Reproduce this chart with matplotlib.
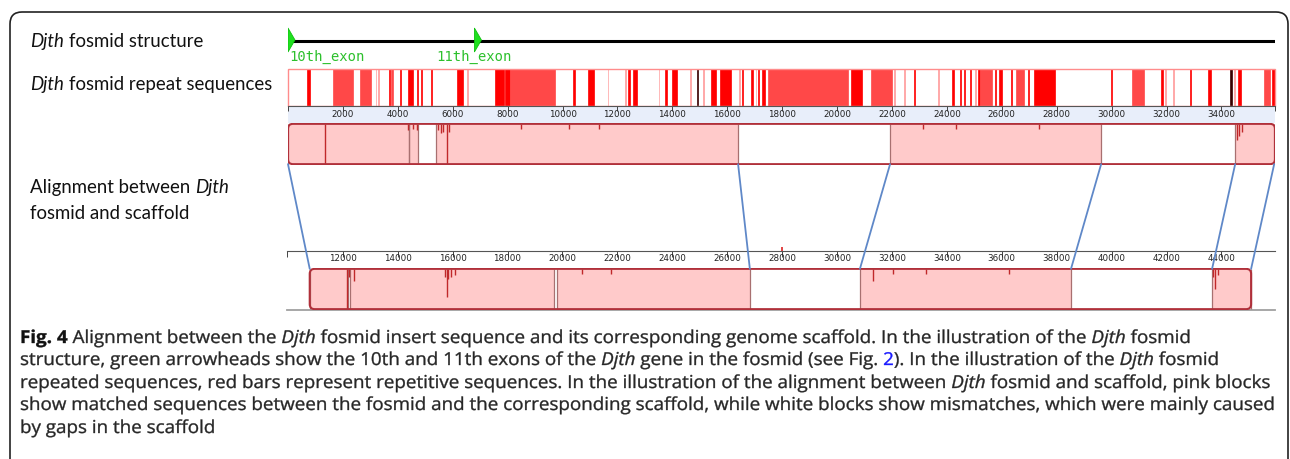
import matplotlib
matplotlib.use('Agg')
import matplotlib.pyplot as plt
from matplotlib import font_manager
from matplotlib.font_manager import FontProperties
from matplotlib.patches import FancyBboxPatch, Polygon, Rectangle, ConnectionPatch, PathPatch
from matplotlib.textpath import TextPath, text_to_path
from matplotlib.transforms import Affine2D

# fosmid / scaffold coordinates (bp)
FOSMID_LEN = 35950
SCAFFOLD_VIEW = (9970, 45950)

EXON_POS = [0, 6790]
EXON_NAMES = ['10th_exon', '11th_exon']

# repeat intervals: start, end, kind (r = repeat, m = low-complexity, l = short, k = other)
REPEAT_START = [700, 1640, 2640, 3190, 3285, 3680, 3760, 4090, 4380, 4700, 4840, 5220,
                6150, 6530, 7530, 7900, 8070, 10390, 10930, 11640, 12270, 12400, 12560,
                13500, 13730, 14000, 14640, 14900, 15120, 15420, 15720, 16420, 16550,
                16880, 17030, 17130, 17260, 17500, 20510, 21230, 22080, 22440, 22800,
                23670, 24170, 24490, 24620, 24830, 25040, 25140, 25220, 25740, 25900,
                26320, 26520, 26960, 27160, 29960, 30730, 31810, 31940, 32230, 32850,
                33500, 34310, 34450, 34590, 35560, 35830]
REPEAT_END = [800, 2370, 3040, 3215, 3310, 3720, 3830, 4130, 4560, 4740, 4880, 5260,
              6380, 6560, 7880, 8070, 9720, 10470, 11130, 11670, 12300, 12450, 12700,
              13530, 13820, 14170, 14670, 14950, 15150, 15580, 16150, 16450, 16590,
              16920, 17060, 17170, 17380, 20410, 20920, 21990, 22110, 22470, 22840,
              23700, 24260, 24530, 24660, 24870, 25070, 25220, 25630, 25800, 26000,
              26360, 26790, 27000, 27950, 30000, 31180, 31860, 31970, 32260, 32890,
              33610, 34390, 34490, 34720, 35770, 35950]
REPEAT_KIND = ['r', 'm', 'm', 'l', 'l', 'r', 'm', 'r', 'r', 'r', 'r', 'r',
               'r', 'l', 'r', 'r', 'm', 'r', 'r', 'l', 'l', 'r', 'r',
               'l', 'r', 'r', 'l', 'k', 'l', 'r', 'r', 'l', 'r',
               'r', 'l', 'r', 'r', 'm', 'r', 'm', 'l', 'l', 'r',
               'l', 'r', 'r', 'r', 'r', 'l', 'r', 'm', 'r', 'r',
               'r', 'm', 'r', 'r', 'r', 'm', 'r', 'l', 'l', 'r',
               'r', 'k', 'l', 'r', 'm', 'r']
REPEAT_COLORS = {'r': '#ff0000', 'm': '#ff4848', 'l': '#ff9c9c', 'k': '#3a0000'}

# matched (pink) blocks on each sequence
FOSMID_BLOCK_START = [0, 4420, 5400, 21930, 34499]
FOSMID_BLOCK_END = [4400, 4720, 16394, 29617, 35920]
SCAFFOLD_BLOCK_START = [10798, 12280, 19800, 30834, 43659]
SCAFFOLD_BLOCK_END = [12180, 19700, 26826, 38521, 45080]

# similarity dips inside blocks: position, depth (fraction of track height)
FOSMID_DIP_POS = [1350, 4370, 4560, 4690, 5470, 5560, 5650, 5780, 5860, 8480, 10240,
                  11330, 23130, 24340, 27350, 34560, 34650, 34740]
FOSMID_DIP_DEPTH = [1.0, 0.15, 0.12, 0.15, 0.15, 0.22, 0.2, 1.0, 0.2, 0.12, 0.12,
                    0.12, 0.12, 0.12, 0.12, 0.4, 0.3, 0.2]
SCAFFOLD_DIP_POS = [12150, 12230, 12400, 15720, 15780, 15850, 15950, 16100, 20700,
                    21760, 31320, 32050, 33240, 36250, 43700, 43780, 43890]
SCAFFOLD_DIP_DEPTH = [1.0, 0.2, 0.3, 0.2, 0.7, 0.25, 0.2, 0.15, 0.12,
                      0.12, 0.3, 0.12, 0.12, 0.12, 0.2, 0.5, 0.15]

# collinear block ends linked between the two sequences
LINK_FOSMID = [0, 16394, 21930, 29617, 34499, 35920]
LINK_SCAFFOLD = [10798, 26826, 30834, 38521, 43659, 45080]

FOSMID_TICKS = list(range(2000, 36000, 2000))
SCAFFOLD_TICKS = list(range(12000, 46000, 2000))
CURSOR_POS = 27980

LABELS = [
    [('Djth', 'i'), (' fosmid structure', 'n')],
    [('Djth', 'i'), (' fosmid repeat sequences', 'n')],
    [('Alignment between ', 'n'), ('Djth', 'i')],
    [('fosmid and scaffold', 'n')],
]
CAPTION = [
    [('Fig. 4', 'b'), (' Alignment between the ', 'n'), ('Djth', 'i'),
     (' fosmid insert sequence and its corresponding genome scaffold. In the illustration of the ', 'n'),
     ('Djth', 'i'), (' fosmid', 'n')],
    [('structure, green arrowheads show the 10th and 11th exons of the ', 'n'), ('Djth', 'i'),
     (' gene in the fosmid (see Fig. ', 'n'), ('2', 'link'), ('). In the illustration of the ', 'n'),
     ('Djth', 'i'), (' fosmid', 'n')],
    [('repeated sequences, red bars represent repetitive sequences. In the illustration of the alignment between ', 'n'),
     ('Djth', 'i'), (' fosmid and scaffold, pink blocks', 'n')],
    [('show matched sequences between the fosmid and the corresponding scaffold, while white blocks show mismatches, which were mainly caused', 'n')],
    [('by gaps in the scaffold', 'n')],
]

W, H = 1290, 459
DPI = 100
fig = plt.figure(figsize=(W / DPI, H / DPI), dpi=DPI)
fig.patch.set_facecolor('white')
renderer = fig.canvas.get_renderer()

available = {f.name for f in font_manager.fontManager.ttflist}
caption_font = 'Open Sans' if 'Open Sans' in available else 'DejaVu Sans'
label_font = 'Lato' if 'Lato' in available else 'DejaVu Sans'


def px_axes(x0, y0, x1, y1):
    ax = fig.add_axes([x0 / W, 1 - y1 / H, (x1 - x0) / W, (y1 - y0) / H])
    for s in ax.spines.values():
        s.set_visible(False)
    ax.set_xticks([])
    ax.set_yticks([])
    ax.patch.set_alpha(0)
    return ax


def style_kw(style):
    kw = {}
    if style == 'i':
        kw['style'] = 'italic'
    if style == 'b':
        kw['weight'] = 'bold'
        kw['color'] = '#111111'
    if style == 'link':
        kw['color'] = '#1a1aff'
    return kw


def text_width(s, size, family, style):
    t = fig.text(0, 0, s, fontsize=size, family=family, **style_kw(style))
    w = t.get_window_extent(renderer).width
    t.remove()
    return w


def rich_line(x, y, parts, size, family, color):
    sp = text_width('x x', size, family, 'n') - text_width('xx', size, family, 'n')
    for s, st in parts:
        x += sp * (len(s) - len(s.lstrip(' ')))
        kw = {'color': color}
        kw.update(style_kw(st))
        t = fig.text(x / W, 1 - y / H, s.strip(' '), fontsize=size, family=family,
                     ha='left', va='baseline', **kw)
        x += t.get_window_extent(renderer).width
        x += sp * (len(s) - len(s.rstrip(' ')))


def rich_label_width(parts, size, family):
    sp = text_width('x x', size, family, 'n') - text_width('xx', size, family, 'n')
    total = 0
    for s, st in parts:
        total += sp * (len(s) - len(s.strip(' ')))
        total += text_width(s.strip(' '), size, family, st)
    return total


# caption: glyph outlines, measured unhinted, squeezed horizontally by sx
def cap_prop(style, family, size):
    kw = style_kw(style)
    return FontProperties(family=family, style=kw.get('style', 'normal'),
                          weight=kw.get('weight', 'normal'), size=size)


def path_width(s, style, family, size):
    w, _, _ = text_to_path.get_text_width_height_descent(s, cap_prop(style, family, size), False)
    return w


def caption_width(parts, size, family):
    sp = path_width('x x', 'n', family, size) - path_width('xx', 'n', family, size)
    total = 0
    for s, st in parts:
        total += sp * (len(s) - len(s.strip(' ')))
        total += path_width(s.strip(' '), st, family, size)
    return total * DPI / 72


def narrow_line(x, y, parts, size, family, color, sx):
    k = DPI / 72
    sp = path_width('x x', 'n', family, size) - path_width('xx', 'n', family, size)
    for s, st in parts:
        x += sx * k * sp * (len(s) - len(s.lstrip(' ')))
        core = s.strip(' ')
        kw = {'color': color}
        kw.update(style_kw(st))
        path = TextPath((0, 0), core, size=size, prop=cap_prop(st, family, size))
        tr = Affine2D().scale(sx * k, k).translate(x, H - y)
        fig.add_artist(PathPatch(path, transform=tr, fc=kw['color'], ec=kw['color'],
                                 lw=0.25))
        x += sx * k * path_width(core, st, family, size)
        x += sx * k * sp * (len(s) - len(s.rstrip(' ')))


def lcb_outline(ax, x0, x1, w_px, h_px):
    lo, hi = ax.get_xlim()
    bp_px = (hi - lo) / w_px
    patch = FancyBboxPatch((x0, 0.02), x1 - x0, 0.96,
                           boxstyle=f'round,pad=0,rounding_size={5 * bp_px}',
                           mutation_aspect=(1 / h_px) / bp_px,
                           fc='none', ec='#b0303a', lw=1.5, zorder=6)
    ax.add_patch(patch)
    return patch


def draw_blocks(ax, starts, ends, dips, depths, outline):
    for s, e in zip(starts, ends):
        r = Rectangle((s, 0.02), e - s, 0.96, fc='#ffcaca', ec='none', zorder=1)
        ax.add_patch(r)
        r.set_clip_path(outline)
        ax.vlines([s, e], 0.02, 0.98, color='#a87070', lw=0.9, zorder=3)
    for x, d in zip(dips, depths):
        ax.vlines(x, 0.98 - 0.96 * d, 0.98, color='#c0282a', lw=1.0, zorder=4)


# outer frame
fig.add_artist(FancyBboxPatch((10 / W, 1 - 500 / H), 1278 / W, 488 / H,
                              boxstyle=f'round,pad=0,rounding_size={12 / W}',
                              mutation_aspect=W / H, transform=fig.transFigure,
                              fc='none', ec='#222222', lw=1.2))

# gene structure track
ax_s = px_axes(288, 22, 1275, 66)
ax_s.set_xlim(0, FOSMID_LEN)
ax_s.set_ylim(66, 22)
ax_s.hlines(41, 0, FOSMID_LEN, color='black', lw=2.2)
bp_px = FOSMID_LEN / (1275 - 288)
for pos, name in zip(EXON_POS, EXON_NAMES):
    ax_s.add_patch(Polygon([(pos, 28), (pos + 7 * bp_px, 40), (pos, 52)],
                           closed=True, fc='#1fe01f', ec='#10c010', lw=0.6, zorder=5))
    if pos < 1500:
        ax_s.text(pos + 60, 57, name, ha='left', va='center', color='#2cc02c',
                  family='DejaVu Sans Mono', fontsize=10)
    else:
        ax_s.text(pos, 57, name, ha='center', va='center', color='#2cc02c',
                  family='DejaVu Sans Mono', fontsize=10)

# repeat track
ax_r = px_axes(288, 69, 1275, 106)
ax_r.set_xlim(0, FOSMID_LEN)
ax_r.set_ylim(0, 1)
for s, e, k in zip(REPEAT_START, REPEAT_END, REPEAT_KIND):
    c = REPEAT_COLORS[k]
    ax_r.bar(s, e - s, width=e - s, bottom=0, align='edge', color=c, ec=c, lw=0.5)
ax_r.add_patch(Rectangle((0, 0), FOSMID_LEN, 1, fc='none', ec='#ff8c8c', lw=1.0,
                         clip_on=False, zorder=5))

# fosmid ruler
ax_t = px_axes(288, 106, 1275, 123)
ax_t.patch.set_alpha(1)
ax_t.set_facecolor('#e8eefa')
ax_t.set_xlim(0, FOSMID_LEN)
ax_t.set_ylim(0, 1)
ax_t.spines['top'].set_visible(True)
ax_t.spines['top'].set_color('#555555')
ax_t.spines['top'].set_linewidth(0.8)
ax_t.set_xticks([0] + FOSMID_TICKS + [FOSMID_LEN])
ax_t.tick_params(axis='x', top=True, bottom=False, labelbottom=False, direction='in',
                 length=3.5, width=0.7, color='#444444')
for t in FOSMID_TICKS:
    ax_t.text(t, 0.5, str(t), ha='center', va='center', fontsize=6.3, color='#222222')

# fosmid alignment track
ax_a = px_axes(288, 123, 1275, 165)
ax_a.set_xlim(0, FOSMID_LEN)
ax_a.set_ylim(0, 1)
out_a = lcb_outline(ax_a, 0, FOSMID_LEN, 1275 - 288, 42)
draw_blocks(ax_a, FOSMID_BLOCK_START, FOSMID_BLOCK_END, FOSMID_DIP_POS, FOSMID_DIP_DEPTH, out_a)

# scaffold ruler
ax_u = px_axes(287, 251, 1275, 264)
ax_u.set_xlim(*SCAFFOLD_VIEW)
ax_u.set_ylim(0, 1)
ax_u.spines['top'].set_visible(True)
ax_u.spines['top'].set_color('#555555')
ax_u.spines['top'].set_linewidth(0.8)
ax_u.set_xticks([SCAFFOLD_VIEW[0]] + SCAFFOLD_TICKS)
ax_u.tick_params(axis='x', top=True, bottom=False, labelbottom=False, direction='in',
                 length=4, width=0.7, color='#444444')
for t in SCAFFOLD_TICKS:
    ax_u.text(t, 0.45, str(t), ha='center', va='center', fontsize=6.3, color='#222222')
ax_u.vlines(CURSOR_POS, 1.0, 1.3, color='#dd2222', lw=1.2, clip_on=False)

# scaffold alignment track
ax_b = px_axes(287, 268, 1275, 310)
ax_b.set_xlim(*SCAFFOLD_VIEW)
ax_b.set_ylim(0, 1)
ax_b.axhline(0.01, color='#a0a0a0', lw=1.3, clip_on=False)
out_b = lcb_outline(ax_b, SCAFFOLD_BLOCK_START[0], SCAFFOLD_BLOCK_END[-1], 1275 - 287, 42)
draw_blocks(ax_b, SCAFFOLD_BLOCK_START, SCAFFOLD_BLOCK_END, SCAFFOLD_DIP_POS, SCAFFOLD_DIP_DEPTH, out_b)

# links between the collinear blocks
for f, s in zip(LINK_FOSMID, LINK_SCAFFOLD):
    fig.add_artist(ConnectionPatch(xyA=(f, 0.02), coordsA=ax_a.transData,
                                   xyB=(s, 0.98), coordsB=ax_b.transData,
                                   color='#5f88c8', lw=1.3))

# track labels on the left
lab_size = 12.0
lab_size *= 242 / rich_label_width(LABELS[1], lab_size, label_font)
for parts, y in zip(LABELS, [47, 90, 193, 219]):
    rich_line(30, y, parts, lab_size, label_font, '#111111')

# caption
cap_size = 12.8
cap_sx = 1255 / caption_width(CAPTION[3], cap_size, caption_font)
for parts, y in zip(CAPTION, [343, 365, 388, 410, 433]):
    narrow_line(20, y, parts, cap_size, caption_font, '#262626', cap_sx)

fig.savefig('out.png', dpi=DPI)
